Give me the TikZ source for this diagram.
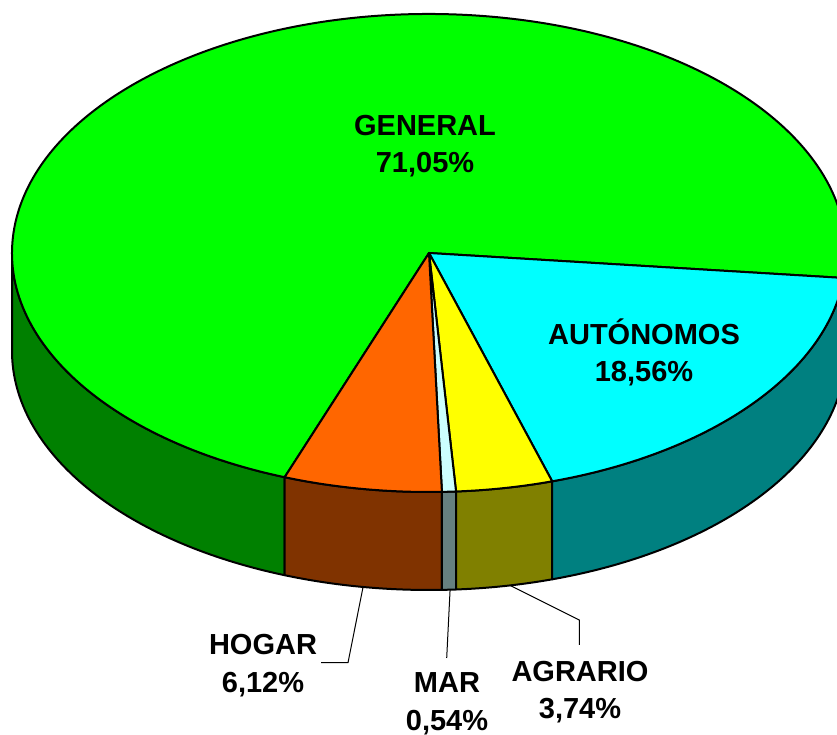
\documentclass[tikz,border=0pt]{standalone}
\usepackage{fontspec}
\setmainfont{Liberation Sans}
\usetikzlibrary{calc}
\definecolor{genTop}{HTML}{00FF00}
\definecolor{genSide}{HTML}{008000}
\definecolor{autTop}{HTML}{00FFFF}
\definecolor{autSide}{HTML}{008080}
\definecolor{agrTop}{HTML}{FFFF00}
\definecolor{agrSide}{HTML}{808000}
\definecolor{marTop}{HTML}{CCFFFF}
\definecolor{marSide}{HTML}{668080}
\definecolor{hogTop}{HTML}{FF6600}
\definecolor{hogSide}{HTML}{803300}
\begin{document}
\begin{tikzpicture}[x=1pt,y=1pt,
  face/.style={draw=black,line width=2pt,line join=round},
  lbl/.style={align=center,font=\fontsize{29}{37.5}\selectfont\bfseries,inner sep=4pt},
  leader/.style={draw=black,line width=1pt}]
\useasboundingbox (0,0) rectangle (837,735);
\clip (0,0) rectangle (837,735);
\coordinate (T) at (429,482);
\coordinate (B) at (429,384);
% side faces (front half only)
\foreach \col/\a/\b in {genSide/-180/-110.256, hogSide/-110.256/-88.224, marSide/-88.224/-86.28, agrSide/-86.28/-72.816, autSide/-72.816/-6, genSide/-6/0}{
  \path[face,fill=\col] ($(T)+(\a:417pt and 239pt)$)
    arc[start angle=\a,end angle=\b,x radius=417pt,y radius=239pt]
    -- ($(B)+(\b:417pt and 239pt)$)
    arc[start angle=\b,end angle=\a,x radius=417pt,y radius=239pt] -- cycle;
}
% top faces
\foreach \col/\a/\b in {genTop/-6/249.744, autTop/-72.816/-6, agrTop/-86.28/-72.816, marTop/-88.224/-86.28, hogTop/-110.256/-88.224}{
  \path[face,fill=\col] (T) -- ($(T)+(\a:417pt and 239pt)$)
    arc[start angle=\a,end angle=\b,x radius=417pt,y radius=239pt] -- cycle;
}
% labels
\node[lbl] (general) at (425,589) {GENERAL\\71,05\%};
\node[lbl] (auto) at (644,382.5) {AUTÓNOMOS\\18,56\%};
\node[lbl] (hogar) at (263,69.5) {HOGAR\\6,12\%};
\node[lbl] (mar) at (447,31) {MAR\\0,54\%};
\node[lbl] (agrario) at (580,43) {AGRARIO\\3,74\%};
% leader lines
\coordinate (hS) at ($(B)+(-99.1:417pt and 239pt)$);
\coordinate (hK) at (348,72.3);
\draw[leader] (hS) -- (hK) -- (hogar.east |- hK);
\coordinate (mS) at ($(B)+(-87.1:417pt and 239pt)$);
\coordinate (mE) at (446.7,77);
\draw[leader] (mS) -- (mE);
\coordinate (aS) at ($(B)+(-78.8:417pt and 239pt)$);
\coordinate (aK) at (579.3,115);
\coordinate (aE) at (579.3,90);
\draw[leader] (aS) -- (aK) -- (aE);
\end{tikzpicture}
\end{document}
